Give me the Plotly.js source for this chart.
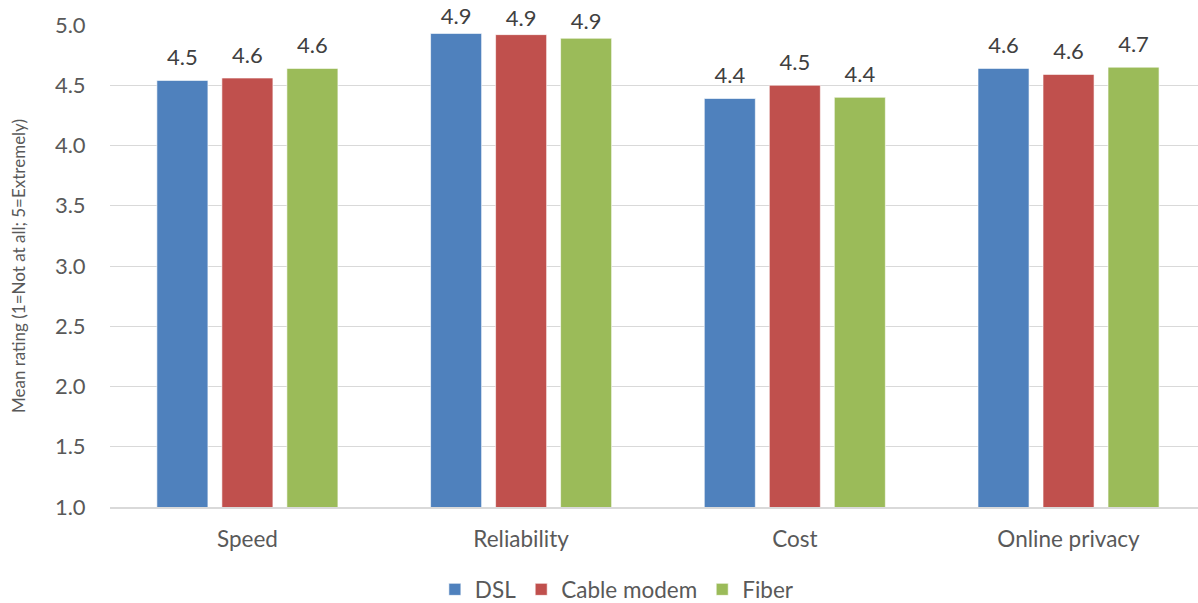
<!DOCTYPE html>
<html><head><meta charset="utf-8">
<script src="https://cdn.plot.ly/plotly-3.0.1.min.js"></script>
<style>html,body{margin:0;padding:0;background:#fff;}#chart{width:1198px;height:603px;}</style>
</head><body><div id="chart"></div>
<script>
const categories = ["Speed", "Reliability", "Cost", "Online privacy"];
const dsl = [4.54, 4.93, 4.39, 4.64];
const cable = [4.56, 4.92, 4.50, 4.59];
const fiber = [4.64, 4.89, 4.40, 4.65];
const seriesNames = ["DSL", "Cable modem", "Fiber"];
const colors = ["#4F81BD", "#C0504D", "#9BBB59"];
const fnt = "Lato, 'Open Sans', sans-serif";

const bars = [dsl, cable, fiber].map((vals, i) => ({
  type: "bar", name: seriesNames[i], x: categories, y: vals,
  marker: {color: colors[i], line: {color: "rgba(255,255,255,0.6)", width: 1}}
}));
// labels near the top edge of the plot sit a little closer to their bars
const labels = [dsl, cable, fiber].map((vals, i) => ({
  type: "scatter", mode: "markers+text", name: seriesNames[i] + " labels", showlegend: false,
  x: categories, y: vals, text: vals.map(v => v.toFixed(1)), textposition: "top center",
  marker: {size: vals.map(v => v > 4.85 ? 4 : 14), color: "rgba(0,0,0,0)", line: {width: 0}}, cliponaxis: false, hoverinfo: "skip",
  textfont: {family: fnt, size: 22, color: "#404040"}
}));

const layout = {
  width: 1198, height: 603,
  margin: {l: 110, r: 0, t: 25, b: 96, autoexpand: false},
  paper_bgcolor: "#fff", plot_bgcolor: "#fff",
  barmode: "group", bargap: 0.2875, bargroupgap: 0.215,
  scattermode: "group", scattergap: 0.2875,
  font: {family: fnt, color: "#595959", size: 19},
  xaxis: {range: [-0.502, 3.473], tickfont: {size: 22.5, color: "#595959"}, showline: true, linecolor: "#d9d9d9", linewidth: 2, ticks: "", ticklabelstandoff: 11, automargin: false},
  yaxis: {range: [1, 5], dtick: 0.5, tickformat: ".1f", gridcolor: "#d9d9d9", gridwidth: 1, zeroline: false, automargin: false,
          tickfont: {size: 22, color: "#595959"}, ticks: "outside", ticklen: 19, tickcolor: "rgba(0,0,0,0)",
          title: {text: "Mean rating (1=Not at all; 5=Extremely)", font: {size: 17, color: "#595959"}, standoff: 24}},
  legend: {orientation: "h", xref: "container", x: 0.363, xanchor: "left", yref: "container", y: 0.022, yanchor: "middle", font: {size: 22.5, color: "#595959"}, traceorder: "normal"},
  showlegend: true
};
Plotly.newPlot("chart", bars.concat(labels), layout, {displayModeBar: false, staticPlot: true});
</script></body></html>
